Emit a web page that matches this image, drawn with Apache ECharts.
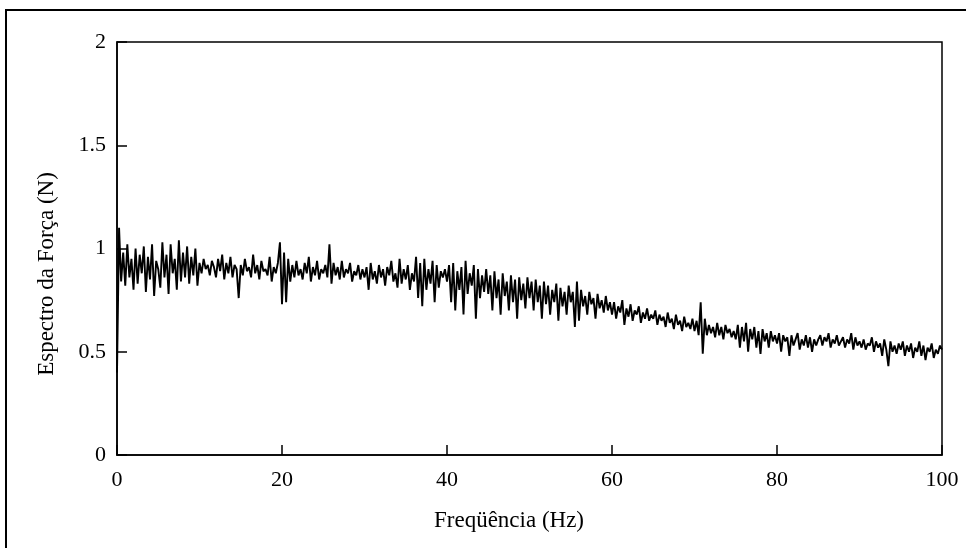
<!DOCTYPE html>
<html>
<head>
<meta charset="utf-8">
<title>Espectro da Força</title>
<script src="https://cdn.jsdelivr.net/npm/echarts@6/dist/echarts.min.js"></script>
<style>
  html, body { margin: 0; padding: 0; background: #fff; }
  #chart { width: 966px; height: 548px; }
</style>
</head>
<body>
<div id="chart"></div>
<script>
// 频率步长 (Hz)，每行 20 个点 = 5 Hz
var freqStep = 0.25
var xTicks = [0, 20, 40, 60, 80, 100]
var yTicks = [0, 0.5, 1, 1.5, 2]

var spectrum = [
  0.40, 1.10, 0.84, 0.98, 0.82, 1.02, 0.86, 0.95, 0.80, 1.00, 0.83, 0.97, 0.88, 1.01, 0.79, 0.96, 0.85, 1.02, 0.77, 0.94,
  0.90, 0.81, 1.03, 0.86, 0.97, 0.78, 1.02, 0.88, 0.95, 0.80, 1.04, 0.84, 0.98, 0.86, 1.01, 0.83, 0.96, 0.87, 1.00, 0.82,
  0.93, 0.88, 0.95, 0.90, 0.92, 0.87, 0.94, 0.91, 0.86, 0.95, 0.89, 0.97, 0.85, 0.93, 0.88, 0.96, 0.86, 0.92, 0.90, 0.76,
  0.92, 0.87, 0.95, 0.89, 0.91, 0.86, 0.97, 0.88, 0.92, 0.85, 0.94, 0.89, 0.90, 0.87, 0.96, 0.84, 0.91, 0.88, 0.93, 1.03,
  0.73, 0.98, 0.74, 0.95, 0.84, 0.92, 0.86, 0.94, 0.87, 0.90, 0.85, 0.93, 0.88, 0.96, 0.84, 0.91, 0.87, 0.94, 0.85, 0.90,
  0.88, 0.92, 0.86, 1.02, 0.83, 0.93, 0.87, 0.91, 0.85, 0.94, 0.86, 0.90, 0.88, 0.93, 0.84, 0.89, 0.87, 0.92, 0.85, 0.90,
  0.86, 0.91, 0.80, 0.93, 0.85, 0.89, 0.83, 0.92, 0.86, 0.90, 0.82, 0.91, 0.87, 0.94, 0.84, 0.88, 0.81, 0.95, 0.83, 0.90,
  0.85, 0.92, 0.80, 0.88, 0.84, 0.96, 0.76, 0.93, 0.72, 0.95, 0.80, 0.90, 0.83, 0.94, 0.74, 0.92, 0.81, 0.89, 0.86, 0.90,
  0.84, 0.92, 0.74, 0.93, 0.70, 0.89, 0.80, 0.91, 0.68, 0.94, 0.78, 0.88, 0.82, 0.92, 0.66, 0.90, 0.76, 0.87, 0.79, 0.90,
  0.78, 0.87, 0.70, 0.89, 0.76, 0.85, 0.68, 0.88, 0.77, 0.84, 0.70, 0.87, 0.74, 0.85, 0.66, 0.86, 0.75, 0.83, 0.71, 0.86,
  0.76, 0.84, 0.70, 0.85, 0.74, 0.82, 0.66, 0.84, 0.73, 0.82, 0.68, 0.80, 0.74, 0.83, 0.65, 0.81, 0.72, 0.79, 0.68, 0.82,
  0.74, 0.79, 0.62, 0.84, 0.65, 0.80, 0.72, 0.77, 0.68, 0.79, 0.73, 0.76, 0.66, 0.78, 0.71, 0.75, 0.69, 0.77, 0.70, 0.74,
  0.68, 0.74, 0.66, 0.72, 0.69, 0.75, 0.63, 0.71, 0.67, 0.73, 0.65, 0.70, 0.68, 0.72, 0.64, 0.69, 0.66, 0.71, 0.65, 0.68,
  0.66, 0.70, 0.63, 0.68, 0.65, 0.67, 0.62, 0.69, 0.64, 0.66, 0.61, 0.68, 0.63, 0.65, 0.60, 0.67, 0.62, 0.64, 0.61, 0.66,
  0.60, 0.65, 0.58, 0.74, 0.49, 0.66, 0.58, 0.63, 0.59, 0.62, 0.57, 0.64, 0.58, 0.62, 0.56, 0.63, 0.59, 0.61, 0.57, 0.60,
  0.56, 0.63, 0.52, 0.62, 0.55, 0.64, 0.50, 0.61, 0.56, 0.62, 0.52, 0.60, 0.49, 0.61, 0.55, 0.59, 0.52, 0.60, 0.55, 0.58,
  0.54, 0.59, 0.50, 0.58, 0.55, 0.57, 0.48, 0.58, 0.53, 0.56, 0.59, 0.51, 0.56, 0.53, 0.58, 0.52, 0.57, 0.50, 0.56, 0.53,
  0.56, 0.58, 0.53, 0.57, 0.55, 0.59, 0.52, 0.56, 0.54, 0.58, 0.53, 0.55, 0.57, 0.52, 0.56, 0.54, 0.59, 0.51, 0.57, 0.53,
  0.55, 0.52, 0.56, 0.51, 0.54, 0.53, 0.57, 0.50, 0.55, 0.52, 0.54, 0.48, 0.56, 0.51, 0.43, 0.55, 0.50, 0.53, 0.49, 0.54,
  0.51, 0.55, 0.48, 0.53, 0.50, 0.54, 0.47, 0.52, 0.50, 0.55, 0.48, 0.53, 0.46, 0.52, 0.50, 0.54, 0.47, 0.51, 0.49, 0.53,
  0.51
]

var serif = '"Liberation Serif", "DejaVu Serif", serif'
var tickFont = 22
var titleFont = 23

var points = spectrum.map(function (v, i) {
  return [i * freqStep, v]
})

var myChart = echarts.init(document.getElementById('chart'))

var option = {
  backgroundColor: '#fff',
  animation: false,
  graphic: [
    // 外框
    {
      type: 'rect',
      shape: { x: 6, y: 10, width: 1000, height: 1000 },
      style: { fill: 'none', stroke: '#000', lineWidth: 2 },
      silent: true
    },
    // 轴标题 (原图位置略偏离中心)
    {
      type: 'text',
      x: 47,
      y: 274,
      rotation: Math.PI / 2,
      style: {
        text: 'Espectro da Força (N)',
        fontFamily: serif,
        fontSize: titleFont,
        fill: '#000',
        align: 'center',
        verticalAlign: 'middle'
      },
      silent: true
    },
    {
      type: 'text',
      x: 509,
      y: 521,
      style: {
        text: 'Freqüência (Hz)',
        fontFamily: serif,
        fontSize: titleFont,
        fill: '#000',
        align: 'center',
        verticalAlign: 'middle'
      },
      silent: true
    }
  ],
  grid: {
    left: 117,
    right: 24,
    top: 42,
    bottom: 93,
    show: true,
    borderColor: '#000',
    borderWidth: 1.5,
    backgroundColor: 'transparent'
  },
  xAxis: {
    type: 'value',
    min: xTicks[0],
    max: xTicks[xTicks.length - 1],
    interval: xTicks[1] - xTicks[0],
    axisLine: { show: true, lineStyle: { color: '#000', width: 1.5 } },
    axisTick: { show: true, inside: true, length: 10, lineStyle: { color: '#000', width: 1.5 } },
    axisLabel: { fontFamily: serif, fontSize: tickFont, color: '#000', margin: 14 },
    splitLine: { show: false }
  },
  yAxis: {
    type: 'value',
    min: yTicks[0],
    max: yTicks[yTicks.length - 1],
    interval: yTicks[1] - yTicks[0],
    axisLine: { show: true, lineStyle: { color: '#000', width: 1.5 } },
    axisTick: { show: true, inside: true, length: 10, lineStyle: { color: '#000', width: 1.5 } },
    axisLabel: { fontFamily: serif, fontSize: tickFont, color: '#000', margin: 11 },
    splitLine: { show: false }
  },
  series: [
    {
      type: 'line',
      data: points,
      showSymbol: false,
      lineStyle: { color: '#000', width: 1.9 },
      silent: true
    }
  ]
}

myChart.setOption(option)
</script>
</body>
</html>
